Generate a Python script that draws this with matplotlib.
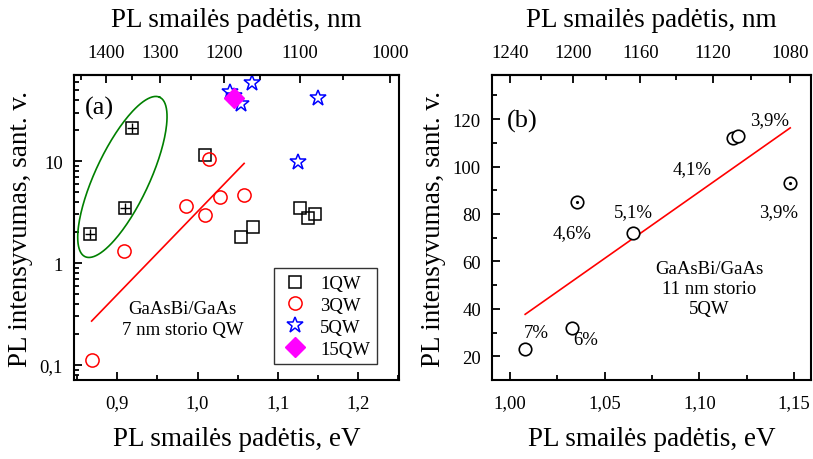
import matplotlib
matplotlib.use("Agg")
import matplotlib.pyplot as plt
import numpy as np
from matplotlib.ticker import FixedLocator, FuncFormatter, LogLocator, NullFormatter

plt.rcParams['font.family'] = ['Liberation Serif', 'DejaVu Serif']

HC = 1239.84  # eV*nm

# ---- (a) 7 nm QW ----
qw1_ev = [1.009, 1.054, 1.069, 1.127, 1.137, 1.146]
qw1_int = [11.5, 1.8, 2.25, 3.5, 2.75, 3.0]
qw1x_ev = [0.866, 0.910, 0.918]          # crossed squares (in ellipse)
qw1x_int = [1.95, 3.5, 21.0]
qw3_ev = [0.868, 0.908, 0.986, 1.009, 1.014, 1.028, 1.058]
qw3_int = [0.112, 1.3, 3.6, 2.95, 10.5, 4.4, 4.7]
qw5_ev = [1.040, 1.046, 1.054, 1.068, 1.125, 1.150]
qw5_int = [47.5, 44.0, 36.5, 59.0, 9.7, 41.5]
qw15_ev = [1.045]
qw15_int = [42.0]
fit_a_ev = [0.868, 1.058]
fit_a_int = [0.27, 9.5]

# ---- (b) 11 nm 5QW ----
b_ev = [1.008, 1.033, 1.0355, 1.065, 1.118, 1.1205, 1.148]
b_int = [23.0, 32.0, 85.0, 72.0, 112.0, 113.0, 93.0]
b_dot = [False, False, True, False, False, False, True]
b_lab = ["7%", "6%", "4,6%", "5,1%", "4,1%", "3,9%", "3,9%"]
b_lab_off = [(0.006, 7), (0.007, -5), (-0.0025, -13), (0.0, 9), (-0.022, -13), (0.0165, 7), (-0.006, -12)]
fit_b_ev = [1.008, 1.148]
fit_b_int = [37.7, 116.3]

fs_tick = 13.5
fs_lab = 19.5

fig = plt.figure(figsize=(8.13, 4.60), dpi=100)
axa = fig.add_axes([0.091, 0.1717, 0.3998, 0.6631])
axb = fig.add_axes([0.6052, 0.1717, 0.3924, 0.6631])


def comma(fmt):
    return FuncFormatter(lambda v, p: (fmt % v).replace('.', ','))


def style(ax):
    for s in ax.spines.values():
        s.set_linewidth(1.5)
    ax.tick_params(which='both', direction='in', top=False, right=False,
                   labelsize=fs_tick, width=1.3)
    ax.tick_params(which='major', length=6)
    ax.tick_params(which='minor', length=3.5)
    ax.tick_params(axis='x', which='major', pad=10)
    ax.tick_params(axis='y', which='major', pad=8)


def top_axis(ax, major, minor):
    sec = ax.secondary_xaxis('top', functions=(lambda x: HC / x, lambda x: HC / x))
    sec.xaxis.set_major_locator(FixedLocator(major))
    sec.xaxis.set_minor_locator(FixedLocator(minor))
    sec.xaxis.set_minor_formatter(NullFormatter())
    sec.xaxis.set_major_formatter(FuncFormatter(lambda v, p: '%d' % round(v)))
    sec.tick_params(which='both', direction='in', labelsize=fs_tick, width=1.3)
    sec.tick_params(which='major', length=6, pad=10)
    sec.tick_params(which='minor', length=3.5)
    sec.spines['top'].set_linewidth(1.5)
    sec.set_xlabel("PL smailės padėtis, nm", fontsize=fs_lab, labelpad=13)
    return sec


# ---------------- panel (a) ----------------
ax = axa
ax.set_yscale('log')
ax.set_xlim(0.846, 1.251)
ax.set_ylim(0.0713, 70)

# green ellipse (drawn in eV / log10 space)
t = np.linspace(0, 2 * np.pi, 200)
a_px, b_px, ang = 88, 27, np.deg2rad(65)
ex = a_px * np.cos(t) * np.cos(ang) - b_px * np.sin(t) * np.sin(ang)
ey = a_px * np.cos(t) * np.sin(ang) + b_px * np.sin(t) * np.cos(ang)
ax.plot(0.9063 + ex / 800, 10 ** (0.845 + ey / 102), color='green', lw=1.2)

ax.plot(fit_a_ev, fit_a_int, color='red', lw=1.2)

ax.plot(qw1_ev, qw1_int, 's', ms=8, mfc='none', mec='black', mew=1.1, ls='none', label='1QW')
ax.plot(qw1x_ev, qw1x_int, 's', ms=8, mfc='none', mec='black', mew=1.1, ls='none')
ax.plot(qw1x_ev, qw1x_int, '+', ms=7.5, mec='black', mew=1.0, ls='none')
ax.plot(qw3_ev, qw3_int, 'o', ms=9.5, mfc='none', mec='red', mew=1.1, ls='none', label='3QW')
ax.plot(qw5_ev, qw5_int, '*', ms=12, mfc='none', mec='blue', mew=1.1, ls='none', label='5QW')
ax.plot(qw15_ev, qw15_int, 'D', ms=10, mfc='magenta', mec='magenta', ls='none', label='15QW')

ax.xaxis.set_major_locator(FixedLocator([0.9, 1.0, 1.1, 1.2]))
ax.xaxis.set_minor_locator(FixedLocator([0.85, 0.95, 1.05, 1.15, 1.25]))
ax.xaxis.set_major_formatter(comma('%.1f'))
ax.yaxis.set_major_locator(FixedLocator([0.1, 1, 10]))
ax.yaxis.set_minor_locator(LogLocator(base=10, subs=np.arange(2, 10)))
ax.yaxis.set_minor_formatter(NullFormatter())
ax.yaxis.set_major_formatter(FuncFormatter(lambda v, p: ('%g' % v).replace('.', ',')))
style(ax)
ax.set_xlabel("PL smailės padėtis, eV", fontsize=fs_lab, labelpad=11)
ax.set_ylabel("PL intensyvumas, sant. v.", fontsize=fs_lab, labelpad=5)
top_axis(ax, [1400, 1300, 1200, 1100, 1000], [1450, 1350, 1250, 1150, 1050])

ax.text(0.035, 0.875, "(a)", transform=ax.transAxes, fontsize=19)
ax.text(0.335, 0.2, "GaAsBi/GaAs\n7 nm storio QW", transform=ax.transAxes,
        fontsize=fs_tick, ha='center', va='center', linespacing=1.25)
leg = ax.legend(loc='lower right', bbox_to_anchor=(0.932, 0.052), fontsize=fs_tick,
                frameon=True, fancybox=False, edgecolor='black', borderpad=0.35,
                handletextpad=0.6, labelspacing=0.25, borderaxespad=0.0, handlelength=1.5)
leg.get_frame().set_linewidth(1.0)

# ---------------- panel (b) ----------------
ax = axb
ax.set_xlim(0.9905, 1.159)
ax.set_ylim(10, 138.6)
ax.plot(fit_b_ev, fit_b_int, color='red', lw=1.2)
for x, y, d, lab, off in zip(b_ev, b_int, b_dot, b_lab, b_lab_off):
    ax.plot(x, y, 'o', ms=9, mfc='white', mec='black', mew=1.2)
    if d:
        ax.plot(x, y, '.', ms=2.5, color='black')
    ax.text(x + off[0], y + off[1], lab, fontsize=fs_tick, ha='center', va='center')

ax.xaxis.set_major_locator(FixedLocator([1.00, 1.05, 1.10, 1.15]))
ax.xaxis.set_minor_locator(FixedLocator([1.025, 1.075, 1.125]))
ax.xaxis.set_major_formatter(comma('%.2f'))
ax.yaxis.set_major_locator(FixedLocator([20, 40, 60, 80, 100, 120]))
ax.yaxis.set_minor_locator(FixedLocator([10, 30, 50, 70, 90, 110, 130]))
style(ax)
ax.set_xlabel("PL smailės padėtis, eV", fontsize=fs_lab, labelpad=11)
ax.set_ylabel("PL intensyvumas, sant. v.", fontsize=fs_lab, labelpad=5)
top_axis(ax, [1240, 1200, 1160, 1120, 1080], [1220, 1180, 1140, 1100])

ax.text(0.045, 0.83, "(b)", transform=ax.transAxes, fontsize=19)
ax.text(0.68, 0.3, "GaAsBi/GaAs\n11 nm storio\n5QW", transform=ax.transAxes,
        fontsize=fs_tick, ha='center', va='center', linespacing=1.25)

fig.savefig("out.png", dpi=100)
